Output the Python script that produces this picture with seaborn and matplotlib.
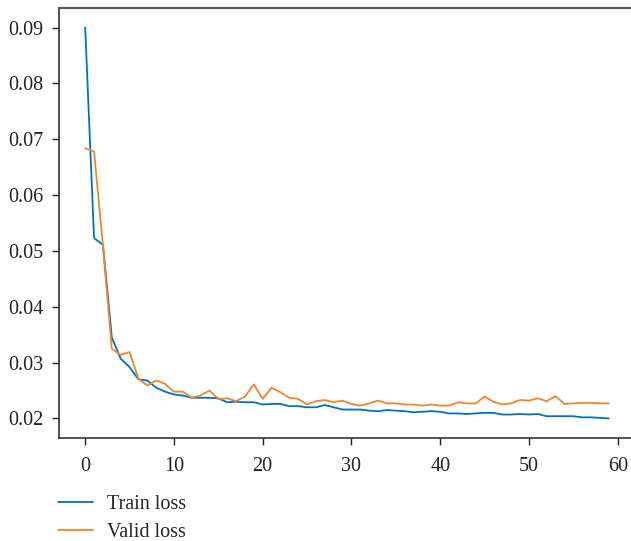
import matplotlib
matplotlib.use("Agg")
import matplotlib.pyplot as plt
import seaborn as sns
import pandas as pd
import numpy as np

epochs = list(range(60))
train_loss = [0.0900, 0.0523, 0.0511, 0.0345, 0.0307, 0.0292, 0.0270, 0.0268, 0.0255, 0.0248,
              0.0243, 0.0241, 0.0237, 0.0237, 0.0237, 0.0236, 0.0229, 0.0230, 0.0229, 0.0229,
              0.0225, 0.0226, 0.0226, 0.0222, 0.0222, 0.0220, 0.0220, 0.0224, 0.0220, 0.0216,
              0.0216, 0.0216, 0.0214, 0.0213, 0.0215, 0.0214, 0.0213, 0.0211, 0.0212, 0.0213,
              0.0212, 0.0209, 0.0209, 0.0208, 0.0209, 0.0210, 0.0210, 0.0207, 0.0207, 0.0208,
              0.0207, 0.0208, 0.0204, 0.0204, 0.0204, 0.0204, 0.0202, 0.0202, 0.0201, 0.0200]
valid_loss = [0.0684, 0.0678, 0.0510, 0.0325, 0.0314, 0.0319, 0.0271, 0.0259, 0.0268, 0.0262,
              0.0248, 0.0248, 0.0237, 0.0241, 0.0250, 0.0235, 0.0236, 0.0231, 0.0239, 0.0261,
              0.0235, 0.0255, 0.0247, 0.0237, 0.0235, 0.0225, 0.0231, 0.0233, 0.0229, 0.0232,
              0.0226, 0.0223, 0.0227, 0.0232, 0.0227, 0.0227, 0.0225, 0.0225, 0.0223, 0.0225,
              0.0223, 0.0223, 0.0229, 0.0227, 0.0227, 0.0239, 0.0230, 0.0225, 0.0227, 0.0233,
              0.0232, 0.0236, 0.0231, 0.0240, 0.0226, 0.0227, 0.0228, 0.0228, 0.0227, 0.0227]
series_names = ["Train loss", "Valid loss"]
colors = ["#0072BD", "#F0852D"]
xticks = [0, 10, 20, 30, 40, 50, 60]
yticks = [0.02, 0.03, 0.04, 0.05, 0.06, 0.07, 0.08, 0.09]

df = pd.DataFrame({
    "epoch": epochs * 2,
    "loss": train_loss + valid_loss,
    "series": [series_names[0]] * len(epochs) + [series_names[1]] * len(epochs),
})

sns.set_style("ticks")
plt.rcParams["font.family"] = ["Liberation Serif", "DejaVu Serif"]

fig = plt.figure(figsize=(6.31, 5.41), dpi=100)
ax = fig.add_axes([59 / 631, 1 - 438 / 541, (635 - 59) / 631, (438 - 8) / 541])

sns.lineplot(data=df, x="epoch", y="loss", hue="series", palette=colors,
             linewidth=1.3, ax=ax, legend=False)

ax.set_xlabel("")
ax.set_ylabel("")
ax.set_xticks(xticks)
ax.set_yticks(yticks)
ax.set_yticklabels([f"{v:.2f}" for v in yticks])
ax.tick_params(axis="both", labelsize=14.5, length=5, width=1, colors="#222222",
               direction="out", pad=6)
ax.tick_params(axis="x", pad=9)

for s in ["left", "bottom"]:
    ax.spines[s].set_color("#222222")
    ax.spines[s].set_linewidth(1.1)
ax.spines["top"].set_color("#555555")
ax.spines["top"].set_linewidth(1.6)
ax.spines["right"].set_visible(False)

from matplotlib.lines import Line2D
handles = [Line2D([], [], color=c, linewidth=1.3) for c in colors]
fig.legend(handles, series_names, loc="upper left", bbox_to_anchor=(58 / 631, 1 - 495 / 541),
           frameon=False, fontsize=14.5, handlelength=1.75, handletextpad=0.7,
           labelspacing=0.42, borderaxespad=0, borderpad=0)

fig.savefig("out.png", dpi=100)
